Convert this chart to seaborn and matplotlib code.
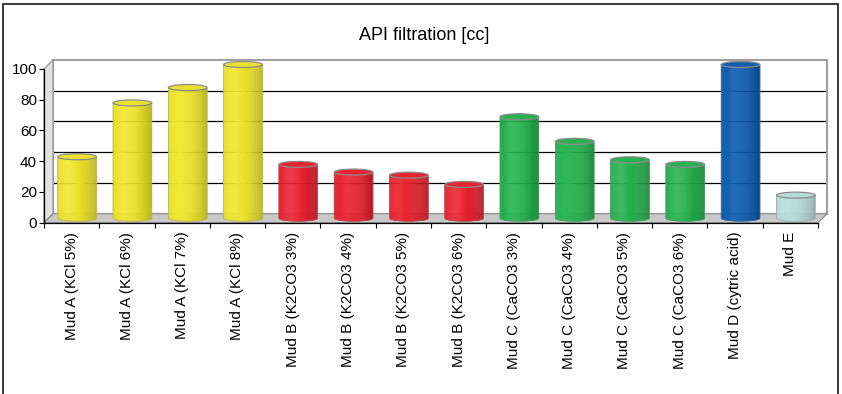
import numpy as np
import pandas as pd
import matplotlib
matplotlib.use("Agg")
import matplotlib.pyplot as plt
import seaborn as sns
from matplotlib.transforms import ScaledTranslation
from matplotlib.patches import Polygon, Ellipse, Rectangle
from matplotlib.collections import PolyCollection
from matplotlib.colors import to_rgb

# ---- data -------------------------------------------------------------
samples = [
    "Mud A (KCl 5%)", "Mud A (KCl 6%)", "Mud A (KCl 7%)", "Mud A (KCl 8%)",
    "Mud B (K2CO3 3%)", "Mud B (K2CO3 4%)", "Mud B (K2CO3 5%)", "Mud B (K2CO3 6%)",
    "Mud C (CaCO3 3%)", "Mud C (CaCO3 4%)", "Mud C (CaCO3 5%)", "Mud C (CaCO3 6%)",
    "Mud D (cytric acid)", "Mud E",
]
filtration = [40, 75, 85, 100, 35, 30, 28, 22, 66, 50, 38, 35, 100, 15]
mud_group = ["A", "A", "A", "A", "B", "B", "B", "B", "C", "C", "C", "C", "D", "E"]
group_colors = {"A": "#F0E628", "B": "#EA1F2C", "C": "#22B24C",
                "D": "#0B5CB0", "E": "#B9DEDC"}
y_ticks = [0, 20, 40, 60, 80, 100]
title = "API filtration [cc]"

df = pd.DataFrame({"sample": samples, "filtration": filtration, "group": mud_group})

# ---- figure & layout ---------------------------------------------------
sns.set_theme(style="white")
plt.rcParams["font.family"] = ["Liberation Sans", "DejaVu Sans"]

W, H, DPI = 842, 394, 100
fig = plt.figure(figsize=(W / DPI, H / DPI), dpi=DPI)
fig.patch.set_facecolor("white")

# front plane of the plot box (pixels)
x0, x1 = 44, 818
yb, yt = 222.7, 69
depth = 9  # 3-D depth offset in pixels

ax = fig.add_axes([x0 / W, 1 - yb / H, (x1 - x0) / W, (yb - yt) / H])
bg = fig.add_axes([(x0 + depth) / W, 1 - (yb - depth) / H, (x1 - x0) / W, (yb - yt) / H])
bg.set_zorder(0)
ax.set_zorder(1)
ax.patch.set_facecolor("none")

# back wall: vertical gradient with grid lines
grad = np.linspace(0, 1, 256)[:, None]
wall = np.array(to_rgb("#ffffff"))[None, None, :] * (1 - grad[..., None]) + \
       np.array(to_rgb("#d2d2d2"))[None, None, :] * grad[..., None]
bg.imshow(wall, extent=[0, 1, 0, 1], aspect="auto", origin="upper", zorder=0)
bg.set_xlim(0, 1)
bg.set_ylim(0, 100)
bg.set_xticks([])
bg.set_yticks([])
for v in y_ticks[1:-1]:
    bg.axhline(v, color="black", lw=0.9, zorder=1)
for side in ["top", "right", "left"]:
    bg.spines[side].set_color("#a0a0a0")
    bg.spines[side].set_linewidth(1.5)
bg.spines["bottom"].set_visible(False)

# ---- bars --------------------------------------------------------------
sns.barplot(data=df, x="sample", y="filtration", hue="group", palette=group_colors,
            width=0.7, saturation=1, dodge=False, legend=False, ax=ax)

ax.set_xlim(-0.5, len(samples) - 0.5)
ax.set_ylim(0, 100)

# side wall and floor of the 3-D box
dx = depth / (x1 - x0)
dy = depth / (yb - yt)
side = Polygon([(0, 0), (dx, dy), (dx, 1 + dy), (0, 1)], closed=True,
               transform=ax.transAxes, fc="#e2e2e2", ec="#9a9a9a", lw=1.0,
               clip_on=False, zorder=0.5)
floor = Polygon([(0, 0), (1, 0), (1 + dx, dy), (dx, dy)], closed=True,
                transform=ax.transAxes, fc="#c8c8c8", ec="#8a8a8a", lw=0.8,
                clip_on=False, zorder=0.6)
ax.add_patch(side)
ax.add_patch(floor)

# bars sit half way into the box
mid = ax.transData + ScaledTranslation(5.5 / DPI, 4.5 / DPI, fig.dpi_scale_trans)
px_per_unit = (yb - yt) / 100.0
e = 3.0 / px_per_unit  # half height of the cylinder caps, in data units


def shade(base, u):
    """Horizontal lighting across a cylinder, u in [0, 1]."""
    base = np.array(base)
    s = 1.0 - 0.22 * ((u - 0.3) / 0.7) ** 2
    hl = 0.05 * np.exp(-((u - 0.3) / 0.15) ** 2)
    c = base * s
    return np.clip(c + (1 - c) * hl, 0, 1)


bars = list(ax.patches)
for p in bars:
    if p in (side, floor):
        continue
    xl, w, h = p.get_x(), p.get_width(), p.get_height()
    if w <= 0 or np.isnan(h):
        continue
    base = to_rgb(p.get_facecolor())
    p.set_visible(False)
    xc = xl + w / 2
    n = 40
    edges = np.linspace(xl, xl + w, n + 1)
    polys, cols = [], []
    for a, b in zip(edges[:-1], edges[1:]):
        ta = np.arccos(np.clip((a - xc) / (w / 2), -1, 1))
        tb = np.arccos(np.clip((b - xc) / (w / 2), -1, 1))
        ya = -e * np.sin(ta)
        yb_ = -e * np.sin(tb)
        polys.append([(a, h), (a, ya), (b, yb_), (b, h)])
        cols.append(shade(base, ((a + b) / 2 - xl) / w))
    body = PolyCollection(polys, facecolors=cols, edgecolors=cols, linewidths=0.3,
                          transform=mid, clip_on=False, zorder=3)
    ax.add_collection(body)
    # outline of the body
    t = np.linspace(np.pi, 2 * np.pi, 60)
    ox = np.concatenate([[xl], xc + (w / 2) * np.cos(t), [xl + w]])
    oy = np.concatenate([[h], e * np.sin(t), [h]])
    edge_col = tuple(np.array(base) * 0.5 + 0.25)
    ax.plot(ox, oy, color=edge_col, lw=0.6,
            transform=mid, clip_on=False, zorder=3.5)
    # top cap
    cap_col = tuple(np.clip(np.array(base) * 0.95 + 0.03, 0, 1))
    cap = Ellipse((xc, h), w, 2 * e, transform=mid, fc=cap_col, ec="#8c8c8c",
                  lw=0.9, clip_on=False, zorder=4)
    ax.add_patch(cap)

# ---- axes styling ------------------------------------------------------
ax.set_xlabel("")
ax.set_ylabel("")
ax.set_yticks(y_ticks)
ax.set_yticklabels([str(v) for v in y_ticks], fontsize=11)
ax.tick_params(axis="y", direction="out", length=3.6, width=0.8, pad=1.5,
               color="black", left=True, labelcolor="black")
ax.set_xticks(range(len(samples)))
ax.set_xticklabels(samples, rotation=90, fontsize=11, va="top", ha="center")
ax.tick_params(axis="x", which="major", length=0, pad=6.5, labelcolor="black")
ax.set_xticks(np.arange(-0.5, len(samples), 1.0), minor=True)
ax.tick_params(axis="x", which="minor", direction="out", length=3.6, width=0.8,
               color="black", bottom=True)
for s in ["top", "right"]:
    ax.spines[s].set_visible(False)
for s in ["left", "bottom"]:
    ax.spines[s].set_color("black")
    ax.spines[s].set_linewidth(0.9)
ax.grid(False)

fig.text(424 / W, 1 - 35 / H, title, ha="center", va="center", fontsize=13,
         color="black")

# outer chart frame
frame = Rectangle((3 / W, -0.05), 835 / W, 1.05 - 4 / H, transform=fig.transFigure,
                  fill=False, ec="#2a2a2a", lw=1.3)
fig.patches.append(frame)

fig.savefig("out.png", dpi=DPI)
